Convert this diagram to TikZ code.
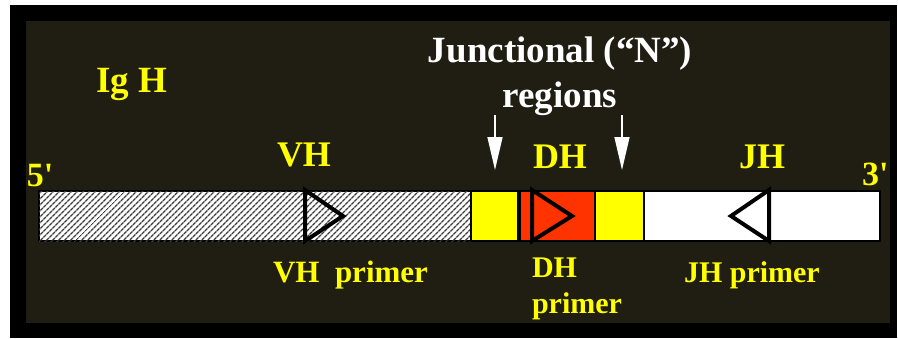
\documentclass[tikz,border=0pt]{standalone}
\usepackage{fontspec}
\setmainfont{Liberation Serif}[Ligatures=TeXOff]
\usetikzlibrary{arrows.meta,patterns.meta}
\definecolor{panel}{RGB}{32,29,19}
\definecolor{dseg}{RGB}{255,51,0}
\definecolor{lab}{RGB}{255,255,0}
\begin{document}
\begin{tikzpicture}[x=1pt,y=-1pt,
  txt/.style={font=\bfseries\fontsize{#1}{#1}\selectfont, inner sep=0pt, outer sep=0pt},
  lbl/.style={txt=#1, text=lab, anchor=base west},
  seg/.style={draw=black, line width=1.2pt, inner sep=0pt, outer sep=0pt,
              minimum height=50pt, anchor=north west},
  primer/.style={draw=black, line width=4pt, line join=miter},
  pointer/.style={draw=white, line width=1.5pt, -{Triangle[length=33pt,width=15pt]}}]
\useasboundingbox (0,0) rectangle (898,338);
% frame and panel
\fill[black] (10,5) rectangle (897,338);
\fill[panel] (26,21) rectangle (890,323);

% gene segments
\node[seg, minimum width=432pt, fill=white,
      postaction={pattern={Lines[angle=45,distance=4pt,line width=1.4pt]}, pattern color=black!75}]
      (vseg) at (39,191) {};
\node[seg, minimum width=47pt, fill=lab] (n1) at (471,191) {};
\node[seg, minimum width=75pt, fill=dseg] (dseg) at (520,191) {};
\node[seg, minimum width=49pt, fill=lab] (n2) at (595,191) {};
\node[seg, minimum width=236pt, fill=white] (jseg) at (644,191) {};

% primers
\draw[primer] (305,190) -- (305,241) -- (343,216) -- cycle;
\draw[primer] (532,190) -- (532,241) -- (572,216) -- cycle;
\draw[primer] (769,190) -- (769,241) -- (731,216) -- cycle;

% labels
\node[lbl=37] (igh) at (96,92) {Ig H};
\node[lbl=34] (five) at (27,186) {5'};
\node[lbl=34] (three) at (862,185) {3'};
\node[lbl=36] (vh) at (277,166) {VH};
\node[lbl=36] (dh) at (533,168) {DH};
\node[lbl=36] (jh) at (739,168) {JH};
\node[lbl=31] (vhp) at (273,282) {VH\ \ primer};
\node[lbl=30] (dhp1) at (532,277) {DH};
\node[lbl=30] (dhp2) at (532,313) {primer};
\node[lbl=30] (jhp) at (684,282) {JH primer};

% junctional regions
\node[txt=37, text=white, anchor=base] (junc) at (560,62) {Junctional (“N”)};
\node[txt=37, text=white, anchor=base] (reg) at (560,107) {regions};
\coordinate (a1) at (495,115);
\coordinate (a1tip) at (495,170);
\coordinate (a2) at (622,115);
\coordinate (a2tip) at (622,170);
\draw[pointer] (a1) -- (a1tip);
\draw[pointer] (a2) -- (a2tip);
\end{tikzpicture}
\end{document}
